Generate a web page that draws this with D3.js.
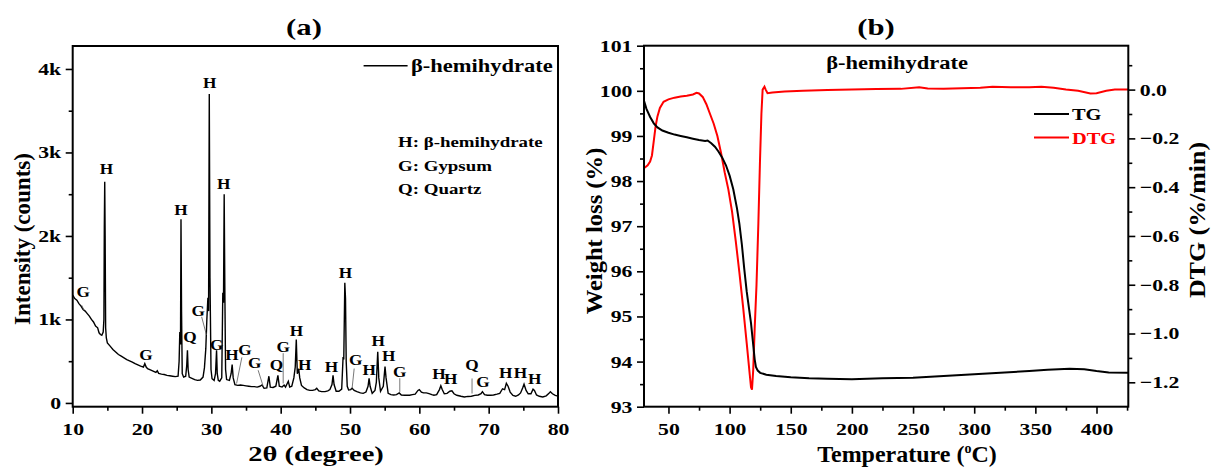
<!DOCTYPE html>
<html>
<head>
<meta charset="utf-8">
<script src="https://cdn.jsdelivr.net/npm/d3@7"></script>
<style>
  body { margin: 0; background: #fff; }
  svg { font-family: "Liberation Serif", "Times New Roman", serif; font-weight: bold; }
  .tick text { font-size: 17px; font-weight: bold; font-family: "Liberation Serif", serif; fill: #000; }
  .tick line { stroke: #000; stroke-width: 1.6; }
</style>
</head>
<body>
<svg width="1213" height="472"></svg>
<script>
'use strict';

// (a) XRD pattern, 2theta (deg) / intensity (counts)
var xrdAngle = [10.0,10.3,10.6,10.9,11.2,11.5,11.8,12.1,12.4,12.7,13.0,13.3,13.6,13.8,14.0,14.2,14.4,14.5,14.56,14.62,14.68,14.75,14.85,15.0,15.4,15.8,16.2,16.6,17.0,17.4,17.8,18.2,18.6,19.0,19.4,19.8,20.2,20.4,20.6,20.8,21.2,21.6,22.0,22.2,22.4,22.8,23.2,23.6,24.0,24.4,24.8,25.2,25.35,25.45,25.55,25.62,25.7,25.8,26.0,26.3,26.45,26.55,26.65,26.8,27.2,27.6,28.0,28.4,28.8,29.0,29.2,29.35,29.5,29.6,29.7,29.8,29.95,30.1,30.4,30.6,30.75,30.85,31.0,31.2,31.5,31.65,31.75,31.85,31.95,32.05,32.2,32.6,32.85,33.0,33.15,33.4,33.8,34.2,34.6,35.0,35.4,35.8,36.2,36.6,37.0,37.3,37.6,38.0,38.3,38.5,38.9,39.3,39.6,39.8,40.2,40.5,40.7,41.1,41.3,41.6,41.9,42.1,42.25,42.4,42.6,42.75,43.0,43.4,43.8,44.2,44.6,45.0,45.2,45.5,45.9,46.4,46.8,47.1,47.4,47.55,47.7,48.0,48.4,48.8,49.0,49.1,49.25,49.35,49.45,49.6,49.8,50.1,50.3,50.6,51.0,51.5,51.9,52.3,52.6,52.75,52.9,53.2,53.6,53.8,54.0,54.15,54.4,54.8,55.05,55.2,55.5,55.9,56.3,56.7,57.1,57.4,57.9,58.6,59.0,59.4,59.8,60.0,60.3,60.6,61.0,61.4,61.8,62.1,62.5,62.9,63.1,63.3,63.6,64.0,64.4,64.7,65.0,65.4,66.0,66.5,67.0,67.5,68.0,68.5,68.9,69.1,69.4,69.8,70.3,70.7,71.2,71.6,72.0,72.3,72.55,72.8,73.1,73.5,73.9,74.3,74.6,74.9,75.1,75.4,75.7,76.1,76.4,76.6,76.9,77.3,77.8,78.3,78.7,78.9,79.2,79.6,80.0];
var xrdCounts = [1290,1250,1230,1190,1160,1120,1100,1070,1040,1000,970,920,900,840,820,810,850,1000,2100,2650,2000,900,780,720,680,640,610,580,560,540,520,505,490,470,455,440,430,470,430,410,395,380,365,385,355,345,340,330,325,320,315,320,500,850,700,2200,1100,350,310,320,450,630,400,310,295,280,270,275,310,420,650,1000,1260,1100,3700,1500,400,290,270,350,630,350,270,260,300,1320,1200,2500,1300,400,280,270,350,460,300,220,210,215,210,205,200,195,195,190,200,215,175,180,320,190,185,200,330,200,190,215,190,260,190,200,300,430,760,350,410,300,210,180,160,150,150,160,175,145,135,135,145,160,220,330,220,140,140,165,550,520,1440,1250,500,200,155,160,175,150,135,120,115,130,200,295,200,115,150,250,612,300,140,200,435,300,115,100,95,100,120,95,92,92,100,105,150,160,130,120,120,112,100,92,100,160,205,160,110,115,140,145,110,92,80,72,78,80,90,95,110,135,100,92,92,95,105,115,170,160,235,200,130,90,80,95,120,180,225,150,110,110,165,150,95,80,72,85,115,135,110,90,82];

// peak labels: letter, 2theta, counts (baseline of the letter)
var peakLetters = ["G","H","G","H","Q","G","H","G","H","H","G","G","Q","G","H","H","H","H","G","H","H","H","G","H","H","Q","G","H","H","H"];
var peakAngles  = [11.53,14.86,20.56,25.61,26.91,28.10,29.75,30.76,31.79,32.96,34.83,36.27,39.40,40.35,42.29,43.48,47.33,49.35,50.83,52.75,54.05,55.59,57.18,62.84,64.53,67.60,69.18,72.45,74.57,76.63];
var peakCounts  = [1264,2739,520,2251,724,1043,3770,632,2559,520,580,420,400,611,800,400,372,1499,452,332,683,500,312,281,221,392,185,300,300,221];

// leader lines from label to peak: [2theta1, counts1, 2theta2, counts2]
var leaders = [[11.3,1170,11.63,1110],[28.6,1031,29.3,812],[34.4,546,33.64,233],[36.75,392,37.47,200],[40.36,596,40.36,233],[50.6,412,50.3,175],[57.18,296,57.18,132],[67.6,293,67.6,113]];

var phaseKey = ["H: \u03b2-hemihydrate", "G: Gypsum", "Q: Quartz"];

var xrdXTicks = [10,20,30,40,50,60,70,80];
var xrdXMinor = [15,25,35,45,55,65,75];
var xrdYTicks = [0,1000,2000,3000,4000];
var xrdYLabels = ["0","1k","2k","3k","4k"];
var xrdYMinor = [500,1500,2500,3500];

// (b) thermal analysis
var tgTemp = [30,32,35,38,41,45,50,55,60,65,70,75,80,82,85,88,91,94,97,100,103,106,108,110,112,114,116,117.5,119,120.5,121.5,123,125,130,138,150,165,180,200,225,250,275,300,325,345,360,378,390,400,410,426];
var tgWeight = [99.78,99.6,99.42,99.28,99.19,99.12,99.07,99.03,99.0,98.97,98.94,98.91,98.89,98.9,98.84,98.76,98.65,98.52,98.35,98.12,97.82,97.4,97.05,96.6,96.05,95.55,95.15,94.85,94.45,94.05,93.88,93.8,93.75,93.71,93.68,93.65,93.63,93.62,93.61,93.63,93.64,93.68,93.72,93.76,93.79,93.82,93.84,93.83,93.79,93.76,93.75];

var dtgTemp = [30.5,33,35,36.5,38,39.5,41,43,46,50,55,60,65,70,73,75,78,81,84,87,90,93,96,99,102,105,108,111,114,116.5,117.5,118.3,119.3,120.5,122,123.5,124.8,126,127,128.5,129.5,131,135,145,160,180,200,220,240,255,262,275,290,305,315,330,345,355,365,375,385,395,400,408,415,426];
var dtgRate = [-0.32,-0.31,-0.295,-0.27,-0.21,-0.15,-0.11,-0.075,-0.05,-0.04,-0.033,-0.028,-0.025,-0.02,-0.013,-0.016,-0.03,-0.06,-0.1,-0.14,-0.19,-0.26,-0.34,-0.41,-0.5,-0.62,-0.75,-0.89,-1.04,-1.17,-1.22,-1.23,-1.15,-0.98,-0.8,-0.55,-0.3,-0.1,0.0,0.012,0.0,-0.015,-0.012,-0.008,-0.005,-0.002,0.0,0.002,0.003,0.01,0.005,0.003,0.006,0.008,0.012,0.01,0.01,0.012,0.008,0.0,-0.005,-0.016,-0.015,-0.005,0.0,0.0];

var thXTicks = [50,100,150,200,250,300,350,400];
var thXMinor = [75,125,175,225,275,325,375,425];
var tgTicks = [93,94,95,96,97,98,99,100,101];
var tgMinor = [93.5,94.5,95.5,96.5,97.5,98.5,99.5,100.5];
var dtgTicks = [0.0,-0.2,-0.4,-0.6,-0.8,-1.0,-1.2];
var dtgMinor = [0.1,-0.1,-0.3,-0.5,-0.7,-0.9,-1.1];

var svg = d3.select("svg");
var STRETCH = 1.28; // the lettering of the original is wide

function drawFrame(x0, x1, y0, y1) {
    svg.append("rect")
        .attr("x", x0).attr("y", y0)
        .attr("width", x1 - x0).attr("height", y1 - y0)
        .attr("fill", "none").attr("stroke", "#000").attr("stroke-width", 2);
}

function addAxis(axis, tx, ty) {
    var g = svg.append("g").attr("transform", "translate(" + tx + "," + ty + ")").call(axis);
    g.select(".domain").remove();
    g.selectAll("text").attr("transform", "scale(" + STRETCH + ",1)");
    return g;
}

// text drawn wider than the font, optionally turned
function label(x, y, str, size, sx, anchor, rot) {
    return svg.append("text")
        .attr("transform", "translate(" + x + "," + y + ")" + (rot ? " rotate(" + rot + ")" : "") + " scale(" + sx + ",1)")
        .attr("text-anchor", anchor || "start")
        .style("font-size", size + "px")
        .text(str);
}

// ---------- panel (a) ----------
var ax = d3.scaleLinear().domain([10, 80]).range([72.7, 558]);
var ay = d3.scaleLinear().domain([-45, 4275]).range([406.7, 46]);

addAxis(d3.axisBottom(ax).tickValues(xrdXTicks).tickSize(7).tickPadding(9).tickFormat(d3.format("d")), 0, 406.7);
addAxis(d3.axisBottom(ax).tickValues(xrdXMinor).tickSize(4).tickFormat(""), 0, 406.7);
addAxis(d3.axisLeft(ay).tickValues(xrdYTicks).tickSize(7).tickPadding(2)
    .tickFormat(function(d, i) { return xrdYLabels[i]; }), 72.7, 0);
addAxis(d3.axisLeft(ay).tickValues(xrdYMinor).tickSize(4).tickFormat(""), 72.7, 0);

svg.append("path")
    .datum(d3.zip(xrdAngle, xrdCounts))
    .attr("fill", "none").attr("stroke", "#000").attr("stroke-width", 1.4)
    .attr("d", d3.line().x(function(d) { return ax(d[0]); }).y(function(d) { return ay(d[1]); }));

svg.selectAll("line.leader")
    .data(leaders)
    .enter().append("line")
    .attr("class", "leader")
    .attr("x1", function(d) { return ax(d[0]); }).attr("y1", function(d) { return ay(d[1]); })
    .attr("x2", function(d) { return ax(d[2]); }).attr("y2", function(d) { return ay(d[3]); })
    .attr("stroke", "#555").attr("stroke-width", 0.8);

svg.selectAll("text.peak")
    .data(d3.zip(peakLetters, peakAngles, peakCounts))
    .enter().append("text")
    .attr("class", "peak")
    .attr("transform", function(d) { return "translate(" + ax(d[1]) + "," + ay(d[2]) + ") scale(1.15,1)"; })
    .attr("text-anchor", "middle")
    .style("font-size", "15px")
    .text(function(d) { return d[0]; });

phaseKey.forEach(function(d, i) { label(398, 147 + i * 23.5, d, 15, 1.26); });

svg.append("line").attr("x1", 363.6).attr("x2", 407.6).attr("y1", 65.7).attr("y2", 65.7)
    .attr("stroke", "#000").attr("stroke-width", 1.5);
label(411, 71.5, "\u03b2-hemihydrate", 18, 1.25);

drawFrame(72.7, 558, 46, 406.7);

label(304, 35, "(a)", 24, STRETCH, "middle");
label(316, 461, "2\u03b8 (degree)", 21, 1.36, "middle");
label(30, 239, "Intensity (counts)", 23, 1.0, "middle", -90);

// ---------- panel (b) ----------
var bx = d3.scaleLinear().domain([30, 426]).range([644, 1128.3]);
var byL = d3.scaleLinear().domain([93, 101]).range([406.7, 45.7]);
var byR = d3.scaleLinear().domain([-1.3, 0.18]).range([406.7, 45.7]);

addAxis(d3.axisBottom(bx).tickValues(thXTicks).tickSize(7).tickPadding(9).tickFormat(d3.format("d")), 0, 406.7);
addAxis(d3.axisBottom(bx).tickValues(thXMinor).tickSize(4).tickFormat(""), 0, 406.7);
addAxis(d3.axisLeft(byL).tickValues(tgTicks).tickSize(7).tickPadding(2).tickFormat(d3.format("d")), 644, 0);
addAxis(d3.axisLeft(byL).tickValues(tgMinor).tickSize(4).tickFormat(""), 644, 0);
addAxis(d3.axisRight(byR).tickValues(dtgTicks).tickSize(7).tickPadding(2).tickFormat(d3.format(".1f")), 1128.3, 0);
addAxis(d3.axisRight(byR).tickValues(dtgMinor).tickSize(4).tickFormat(""), 1128.3, 0);

svg.append("path")
    .datum(d3.zip(dtgTemp, dtgRate))
    .attr("fill", "none").attr("stroke", "#ff0000").attr("stroke-width", 2)
    .attr("d", d3.line().x(function(d) { return bx(d[0]); }).y(function(d) { return byR(d[1]); }));

svg.append("path")
    .datum(d3.zip(tgTemp, tgWeight))
    .attr("fill", "none").attr("stroke", "#000").attr("stroke-width", 2)
    .attr("d", d3.line().x(function(d) { return bx(d[0]); }).y(function(d) { return byL(d[1]); }));

drawFrame(644, 1128.3, 45.7, 406.7);

label(897, 69, "\u03b2-hemihydrate", 18, 1.25, "middle");

svg.append("line").attr("x1", 1034).attr("x2", 1069).attr("y1", 114).attr("y2", 114)
    .attr("stroke", "#000").attr("stroke-width", 2);
label(1072, 120, "TG", 17, 1.2);
svg.append("line").attr("x1", 1034).attr("x2", 1069).attr("y1", 137.5).attr("y2", 137.5)
    .attr("stroke", "#ff0000").attr("stroke-width", 2);
label(1072, 143.5, "DTG", 17, 1.2).attr("fill", "#ff0000");

label(876, 35, "(b)", 24, STRETCH, "middle");

var tLabel = svg.append("text").attr("x", 907).attr("y", 462).attr("text-anchor", "middle")
    .style("font-size", "24px");
tLabel.append("tspan").text("Temperature (");
tLabel.append("tspan").attr("dy", -9).style("font-size", "14px").text("o");
tLabel.append("tspan").attr("dy", 9).text("C)");

label(602, 231, "Weight loss (%)", 23, 1.07, "middle", -90);
label(1205, 220, "DTG (%/min)", 24, 1.08, "middle", -90);
</script>
</body>
</html>
